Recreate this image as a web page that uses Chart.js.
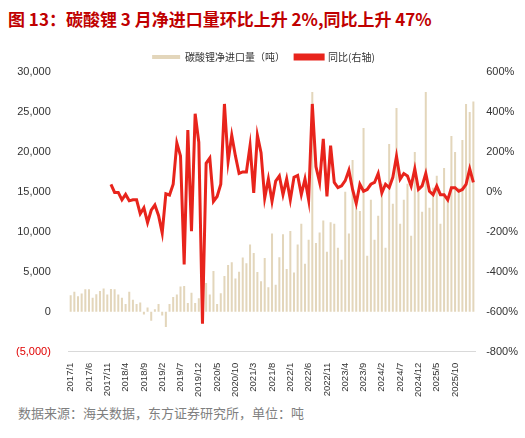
<!DOCTYPE html>
<html>
<head>
<meta charset="utf-8">
<script src="https://cdn.jsdelivr.net/npm/chart.js@4"></script>
<style>
  body { margin: 0; background: #fff; font-family: "Noto Sans CJK SC", "Liberation Sans", sans-serif; }
  #title { position: absolute; left: 8px; top: 6px; font-size: 17px; font-weight: bold; color: #c00000; }
  #wrap { position: absolute; left: 0; top: 42px; width: 525px; height: 358px; }
  #foot { position: absolute; left: 18px; top: 403px; font-size: 13px; color: #7f7f7f; }
</style>
</head>
<body>
<div id="title">图 13：碳酸锂 3 月净进口量环比上升 2%,同比上升 47%</div>
<div id="wrap"><canvas id="chart"></canvas></div>
<div id="foot">数据来源：海关数据，东方证券研究所，单位：吨</div>
<script>
// --- Data ---
const months = [];
for (let y = 2017; y <= 2026; y++) {
    for (let m = 1; m <= 12; m++) {
        if (y === 2026 && m > 3) break;
        months.push(`${y}/${m}`);
    }
}

const netImports = [
    2050, 2500, 1950, 2270, 2800, 2800, 1750, 2200, 2600, 2900, 2150, 2850,
    2800, 2150, 1750, 960, 2500, 1500, 960, 1140, -350, 520, -1140, 300,
    960, -480, -1900, 960, 1840, 2150, 3150, 3230, 1100, 2360, 1100, 1700,
    3670, 3600, 2150, 5100, 960, 2300, 4460, 5860, 6200, 4150, 5000, 6770,
    6070, 8400, 7340, 4980, 3800, 6730, 3060, 9800, 3360, 6820, 9700, 5330,
    10100, 4900, 8400, 11000, 6000, 9000, 27500, 8600, 9900, 11400, 7500, 11200,
    11000, 8000, 6500, 15000, 9800, 19000, 13000, 12600, 23000, 7000, 14000, 9000,
    12000, 16000, 8000, 21000, 13500, 25500, 11000, 14000, 16000, 9500, 20000, 15000,
    12500, 27500, 13000, 15500, 17000, 11000, 18000, 14000, 22000, 20000, 15500, 21500,
    26000, 25000, 26300
];

// YoY (%) starts 2017/12
const yoyValues = [
    38,
    -3, -3, -40, -13, -45, -40, -40, -110, -80, -154, -92, -66,
    -118, -206, -10, -16, 38, 245, 180, -363, 310, -197, 391, 248,
    -660, 143, 169, -48, -23, 38, 440, 152, 283, 180, 92, 100,
    100, 231, -5, 283, 196, -31, 64, -48, 54, 80, -14, 64,
    -40, 73, 82, -14, 64, -40, 440, 126, 47, 265, -23, 231,
    47, 21, 30, 56, 108, 12, -58, 38, 3, 12, 38, 47,
    92, -5, 38, 21, 73, 178, 64, 92, 80, 29, 115, 12,
    30, 92, 3, -14, 29, -14, -14, -40, 21, 21, 3, 12,
    38, 115, 47
];
const yoy = new Array(months.length - yoyValues.length).fill(null).concat(yoyValues);

const fontFamily = '"Liberation Sans", "Noto Sans CJK SC", sans-serif';

new Chart(document.getElementById('chart').getContext('2d'), {
    data: {
        labels: months,
        datasets: [{
            type: 'bar',
            label: '碳酸锂净进口量（吨）',
            data: netImports,
            backgroundColor: '#e3d6bb',
            barPercentage: 0.55,
            categoryPercentage: 1,
            yAxisID: 'y',
            order: 2
        }, {
            type: 'line',
            label: '同比(右轴)',
            data: yoy,
            borderColor: '#e8241c',
            backgroundColor: '#e8241c',
            borderWidth: 3,
            pointRadius: 0,
            tension: 0,
            yAxisID: 'y1',
            order: 1
        }]
    },
    options: {
        responsive: true,
        maintainAspectRatio: false,
        animation: false,
        layout: { padding: { left: 6, right: 4, top: 0, bottom: 0 } },
        plugins: {
            legend: {
                labels: {
                    sort: (a, b) => a.datasetIndex - b.datasetIndex,
                    font: { family: '"Noto Sans CJK SC", sans-serif', size: 10 },
                    color: '#333',
                    boxWidth: 28,
                    boxHeight: 4
                }
            },
            tooltip: { enabled: false }
        },
        scales: {
            x: {
                grid: { display: false },
                border: { color: '#d9d9d9' },
                ticks: {
                    autoSkip: false,
                    maxRotation: 90,
                    minRotation: 90,
                    font: { family: fontFamily, size: 9.5 },
                    color: '#333',
                    callback: (v, i) => (i % 5 === 0 && i < 108 ? months[i] : '')
                }
            },
            y: {
                position: 'left',
                min: -5000,
                max: 30000,
                grid: { display: false },
                border: { display: false },
                ticks: {
                    stepSize: 5000,
                    padding: 10,
                    font: { family: fontFamily, size: 11 },
                    color: ctx => (ctx.tick.value < 0 ? '#e00000' : '#333'),
                    callback: v => (v < 0 ? `(${Math.abs(v).toLocaleString('en-US')})` : v.toLocaleString('en-US'))
                }
            },
            y1: {
                position: 'right',
                min: -800,
                max: 600,
                grid: { display: false },
                border: { display: false },
                ticks: {
                    stepSize: 200,
                    font: { family: fontFamily, size: 11 },
                    color: '#333',
                    callback: v => v + '%'
                }
            }
        }
    }
});
</script>
</body>
</html>
